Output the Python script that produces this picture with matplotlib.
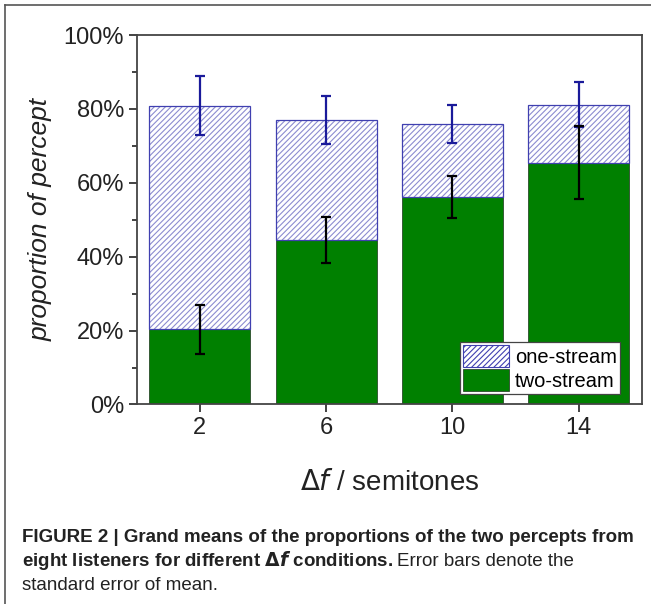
import numpy as np
import matplotlib
matplotlib.use('Agg')
import matplotlib.pyplot as plt
from matplotlib.patches import Patch
from matplotlib.lines import Line2D

plt.rcParams['font.family'] = ['Liberation Sans', 'DejaVu Sans']
plt.rcParams['hatch.linewidth'] = 0.8

# data (percent)
delta_f = [2, 6, 10, 14]
two_stream = [20.4, 44.5, 56.1, 65.4]
two_stream_err = [6.6, 6.2, 5.65, 9.9]
one_stream = [60.5, 32.4, 19.8, 15.7]
one_stream_err = [8.0, 6.5, 5.2, 6.1]

green = '#008000'
blue_edge = '#4040b0'
hatch_col = '#8c8cd0'
navy = '#1a1a9a'

fig = plt.figure(figsize=(6.51, 6.04), dpi=100)
ax = fig.add_axes([0.21, 0.3303, 0.7757, 0.6117])

x = np.array(delta_f)
top = np.array(two_stream) + np.array(one_stream)

ax.bar(x, two_stream, width=3.2, color=green, edgecolor='#2a4a2a', linewidth=0.6, zorder=2)
# hatch layer (light) then outline layer (darker blue)
ax.bar(x, one_stream, width=3.2, bottom=two_stream, color='white', edgecolor=hatch_col,
       hatch='//////', linewidth=0, zorder=2)
ax.bar(x, one_stream, width=3.2, bottom=two_stream, fill=False, edgecolor=blue_edge,
       linewidth=0.9, zorder=2)

ax.errorbar(x, top, yerr=one_stream_err, fmt='none', ecolor=navy, elinewidth=1.6,
            capsize=3.8, capthick=1.6, zorder=3)
ax.errorbar(x, two_stream, yerr=two_stream_err, fmt='none', ecolor='black', elinewidth=1.6,
            capsize=3.8, capthick=1.6, zorder=4)

ax.set_xlim(0, 16)
ax.set_ylim(0, 100)
ax.set_xticks(delta_f)
ax.set_xticklabels([str(v) for v in delta_f])
ax.set_yticks(np.arange(0, 101, 20))
ax.set_yticklabels(['%d%%' % v for v in range(0, 101, 20)])
ax.set_yticks(np.arange(10, 100, 20), minor=True)
ax.tick_params(axis='both', which='major', direction='out', length=6, width=1.2,
               labelsize=17, colors='#222222', pad=3)
ax.tick_params(axis='y', which='minor', direction='out', length=3.5, width=1.2, color='#222222')
for s in ax.spines.values():
    s.set_linewidth(1.3)
    s.set_color('#444444')

ax.set_ylabel('proportion of percept', fontsize=19, style='italic', color='#222222', labelpad=8)
ax.set_xlabel(r'$\Delta$$\it{f}$ / semitones', fontsize=20, color='#222222', labelpad=22)

handles = [Patch(facecolor='white', edgecolor=blue_edge, hatch='//////', linewidth=0.8),
           Patch(facecolor=green, edgecolor='#2a4a2a', linewidth=0.6)]
leg = ax.legend(handles, ['one-stream', 'two-stream'], loc='lower right',
                bbox_to_anchor=(0.957, 0.028), fontsize=14.5, frameon=True, fancybox=False,
                framealpha=1, edgecolor='#444444', borderpad=0.15, labelspacing=0.12,
                handlelength=2.3, handleheight=1.3, handletextpad=0.3, borderaxespad=0)
leg.get_frame().set_linewidth(0.9)

# outer frame (top and left edges)
fig.add_artist(Line2D([5 / 651, 1], [1 - 5 / 604, 1 - 5 / 604], color='#555555', lw=1.2))
fig.add_artist(Line2D([5 / 651, 5 / 651], [0, 1 - 5 / 604], color='#555555', lw=1.2))

# caption
cap_font = ['Liberation Sans Narrow', 'Liberation Sans', 'DejaVu Sans']
fig.text(22 / 651, 1 - 537 / 604,
         'FIGURE 2 | Grand means of the proportions of the two percepts from',
         fontsize=13.5, fontweight='bold', family=cap_font, va='center', color='#222222')
t2 = fig.text(22 / 651, 1 - 561 / 604,
              r'eight listeners for different $\mathbf{\Delta}\boldsymbol{f}$ conditions.',
              fontsize=13.5, fontweight='bold', family=cap_font, va='center', color='#222222')
r = fig.canvas.get_renderer()
bb = t2.get_window_extent(renderer=r)
fig.text(bb.x1 / fig.bbox.width + 0.006, 1 - 561 / 604, 'Error bars denote the',
         fontsize=13.5, family=cap_font, va='center', color='#222222')
fig.text(22 / 651, 1 - 585 / 604, 'standard error of mean.',
         fontsize=13.5, family=cap_font, va='center', color='#222222')

fig.savefig('out.png', dpi=100)
